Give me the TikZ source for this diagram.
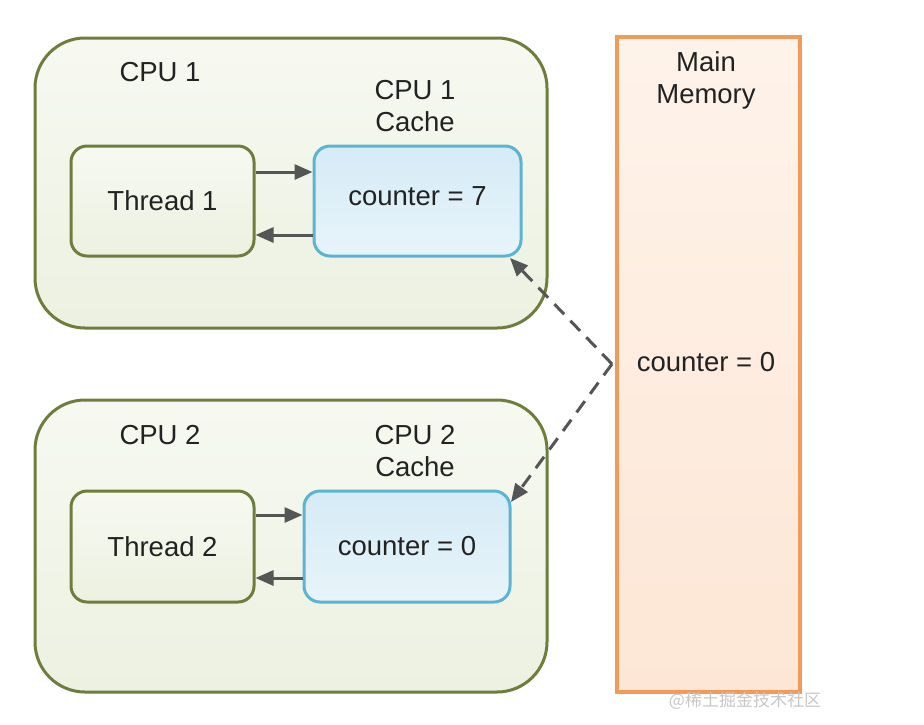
\documentclass[tikz,border=0pt]{standalone}
\usepackage{fontspec}
\setmainfont{Liberation Sans}
\newfontfamily\cjk{Noto Sans CJK SC}
\usetikzlibrary{arrows.meta}
\definecolor{olive}{HTML}{6E7D3C}
\definecolor{cpufillA}{HTML}{F7F9F1}
\definecolor{cpufillB}{HTML}{ECF1E1}
\definecolor{cacheline}{HTML}{5DB4D2}
\definecolor{cachefillA}{HTML}{D5EBF6}
\definecolor{cachefillB}{HTML}{E8F4FA}
\definecolor{memline}{HTML}{F39A58}
\definecolor{memfillA}{HTML}{FEF3EA}
\definecolor{memfillB}{HTML}{FDE6D5}
\definecolor{arrowgray}{HTML}{555555}
\definecolor{textgray}{HTML}{222222}
\begin{document}
\begin{tikzpicture}[x=1pt,y=-1pt,
  every node/.style={font=\fontsize{27.5}{32}\selectfont, text=textgray},
  cpubox/.style={draw=olive, line width=3pt, rounded corners=50pt, top color=cpufillA, bottom color=cpufillB, minimum width=512pt, minimum height=290pt, inner sep=0pt},
  threadbox/.style={draw=olive, line width=3pt, rounded corners=16pt, top color=cpufillA, bottom color=cpufillB, minimum width=183pt, minimum height=110pt, inner sep=0pt},
  cachebox/.style={draw=cacheline, line width=3pt, rounded corners=16pt, top color=cachefillA, bottom color=cachefillB, minimum width=207pt, minimum height=110pt, inner sep=0pt},
  membox/.style={draw=memline, line width=3.5pt, top color=memfillA, bottom color=memfillB, minimum width=183pt, minimum height=655pt, inner sep=0pt},
  flow/.style={draw=arrowgray, line width=3pt, -{Triangle[length=18pt,width=15pt]}},
  sync/.style={draw=arrowgray, line width=3pt, dash pattern=on 14pt off 9pt, -{Triangle[length=18pt,width=15pt]}},
  label/.style={align=center, inner sep=0pt}
]
\useasboundingbox (0,0) rectangle (924,724);
\fill[white] (0,0) rectangle (924,724);

% CPU boxes
\node[cpubox] (cpu1) at (291,183) {};
\node[cpubox, minimum height=292pt] (cpu2) at (291,546) {};

% Main memory
\node[membox] (mem) at (708.5,364.5) {};

% Inner boxes
\node[threadbox] (t1) at (162.5,201) {Thread 1};
\node[cachebox] (c1) at (417.5,201) {};
\node[label] (c1v) at (417.5,196) {counter = 7};
\node[threadbox, minimum height=111pt] (t2) at (162.5,546.5) {Thread 2};
\node[cachebox, minimum width=206pt, minimum height=111pt] (c2) at (407,546.5) {counter = 0};

% Labels
\node[label] (l1) at (160,72) {CPU 1};
\node[label] (lc1) at (415,106) {CPU 1\\Cache};
\node[label] (l2) at (160,435) {CPU 2};
\node[label] (lc2) at (415,451) {CPU 2\\Cache};
\node[label] (lm) at (706,80) {Main\\Memory};
\node[label] (mv) at (706,362) {counter = 0};

% Thread <-> cache arrows
\draw[flow] ([yshift=29pt]t1.east) -- ([yshift=29pt]t1.east -| c1.west);
\draw[flow] ([yshift=-34pt]t1.east -| c1.west) -- ([yshift=-34pt]t1.east);
\draw[flow] ([yshift=31.5pt]t2.east) -- ([yshift=31.5pt]t2.east -| c2.west);
\draw[flow] ([yshift=-31.5pt]t2.east -| c2.west) -- ([yshift=-31.5pt]t2.east);

% Memory <-> caches dashed
\coordinate (j) at (612,364);
\coordinate (c1tip) at (510,258);
\coordinate (c2tip) at (511,502);
\draw[sync] (j) -- (c1tip);
\draw[sync] (j) -- (c2tip);

% watermark
\node[font=\cjk\fontsize{17}{17}\selectfont, text=black!22, inner sep=0pt] (wm) at (745,701) {@稀土掘金技术社区};
\end{tikzpicture}
\end{document}
